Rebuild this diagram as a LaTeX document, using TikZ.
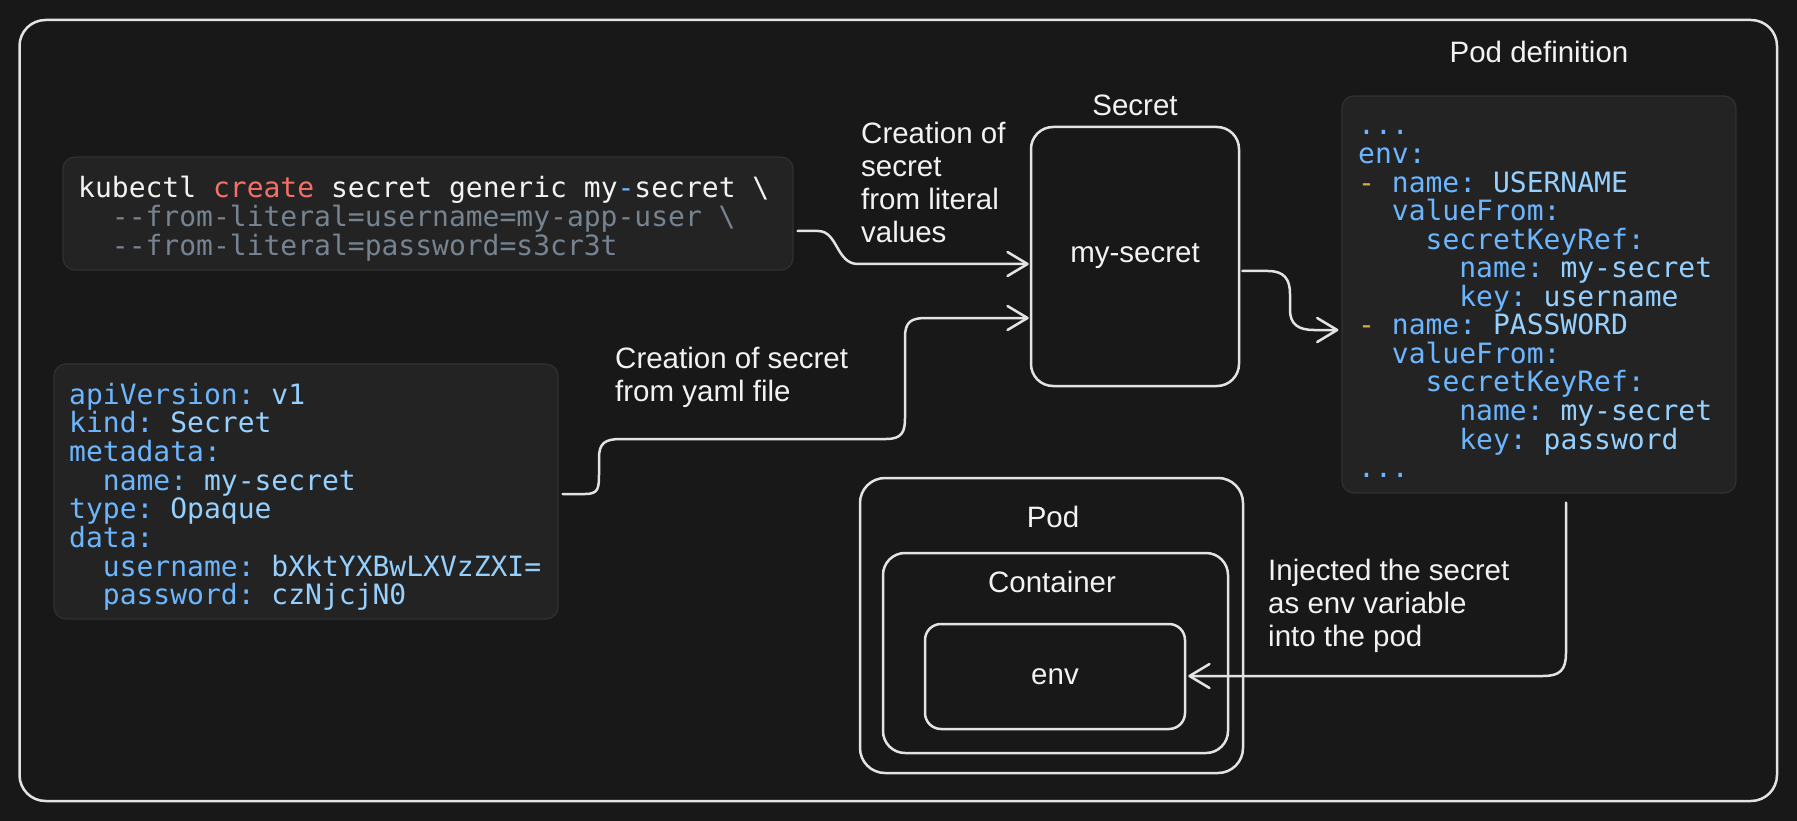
\documentclass[tikz,border=0pt]{standalone}
\usepackage{fontspec}
\setmainfont{Liberation Sans}
\setmonofont{DejaVu Sans Mono}
\usetikzlibrary{arrows.meta}
\definecolor{bg}{HTML}{181818}
\definecolor{stroke}{HTML}{E3E3E3}
\definecolor{codebg}{HTML}{232323}
\definecolor{codeborder}{HTML}{313131}
\definecolor{ctext}{HTML}{F2F2F2}
\definecolor{ckey}{HTML}{6CB6FF}
\definecolor{cval}{HTML}{96D0FF}
\definecolor{cred}{HTML}{F47067}
\definecolor{cgray}{HTML}{768390}
\definecolor{cyel}{HTML}{DAAA3F}
\newcommand\codeK[1]{\textcolor{ckey}{#1}}
\newcommand\codeV[1]{\textcolor{cval}{#1}}
\newcommand\codeY[1]{\textcolor{cyel}{#1}}
\begin{document}
\begin{tikzpicture}[x=1pt,y=-1pt,
  frame/.style={draw=stroke, line width=2.5pt, rounded corners=26pt},
  box/.style={draw=stroke, line width=2.5pt, rounded corners=22pt, text=ctext,
    font=\fontsize{29.5}{33}\selectfont, inner sep=0pt},
  codebox/.style={draw=codeborder, fill=codebg, line width=1.2pt, rounded corners=12pt, inner sep=0pt},
  code/.style={anchor=base west, inner sep=0pt, text=ctext, font=\ttfamily\fontsize{28}{28.6}\selectfont},
  lbl/.style={inner sep=0pt, text=ctext, align=left, font=\fontsize{29.5}{33}\selectfont},
  arr/.style={draw=stroke, line width=2.5pt, line cap=round, line join=round,
    -{Straight Barb[length=20pt, width=24pt, line cap=round, line join=round]}}
]
\useasboundingbox (0,0) rectangle (1797,821);
\fill[bg] (0,0) rectangle (1797,821);
\draw[frame] (19.5,20) rectangle (1777,801);

% kubectl command block
\node[codebox, minimum width=730pt, minimum height=113pt] (c1) at (428,213.5) {};
\node[code] (c1a) at (78,198) {kubectl \textcolor{cred}{create} secret generic my\textcolor{ckey}{-}secret \textbackslash};
\node[code, text=cgray] (c1b) at (78,226.7) {\phantom{xx}--from-literal=username=my-app-user \textbackslash};
\node[code, text=cgray] (c1c) at (78,255.4) {\phantom{xx}--from-literal=password=s3cr3t};

% yaml block
\node[codebox, minimum width=504pt, minimum height=255pt] (y) at (306,491.5) {};
\foreach \t [count=\i from 0] in {
  {\codeK{apiVersion:} \codeV{v1}},
  {\codeK{kind:} \codeV{Secret}},
  {\codeK{metadata:}},
  {\phantom{xx}\codeK{name:} \codeV{my-secret}},
  {\codeK{type:} \codeV{Opaque}},
  {\codeK{data:}},
  {\phantom{xx}\codeK{username:} \codeV{bXktYXBwLXVzZXI=}},
  {\phantom{xx}\codeK{password:} \codeV{czNjcjN0}}}
  \node[code] (y\i) at (69,{404+28.7*\i}) {\t};

% pod definition block
\node[lbl, anchor=base] (pdl) at (1539,63) {Pod definition};
\node[codebox, minimum width=394pt, minimum height=397pt] (pd) at (1539,294.5) {};
\foreach \t [count=\i from 0] in {
  {\codeK{...}},
  {\codeK{env:}},
  {\codeY{-} \codeK{name:} \codeV{USERNAME}},
  {\phantom{xx}\codeK{valueFrom:}},
  {\phantom{xxxx}\codeK{secretKeyRef:}},
  {\phantom{xxxxxx}\codeK{name:} \codeV{my-secret}},
  {\phantom{xxxxxx}\codeK{key:} \codeV{username}},
  {\codeY{-} \codeK{name:} \codeV{PASSWORD}},
  {\phantom{xx}\codeK{valueFrom:}},
  {\phantom{xxxx}\codeK{secretKeyRef:}},
  {\phantom{xxxxxx}\codeK{name:} \codeV{my-secret}},
  {\phantom{xxxxxx}\codeK{key:} \codeV{password}},
  {\codeK{...}}}
  \node[code] (pd\i) at (1358,{135+28.55*\i}) {\t};

% secret
\node[lbl, anchor=base] (secl) at (1135,116) {Secret};
\node[box, minimum width=208pt, minimum height=259pt] (secret) at (1135,256.5) {my-secret};

% pod
\node[box, rounded corners=25pt, minimum width=383pt, minimum height=295pt] (pod) at (1051.5,625.5) {};
\node[lbl, anchor=base] (podl) at (1053,527) {Pod};
\node[box, minimum width=345pt, minimum height=200pt] (cont) at (1055.5,653) {};
\node[lbl, anchor=base] (contl) at (1052,592) {Container};
\node[box, rounded corners=16pt, minimum width=260pt, minimum height=105pt] (env) at (1055,676.5) {env};

% labels
\node[lbl, anchor=north west] (litl) at (861,121.5) {Creation of\\secret\\from literal\\values};
\node[lbl, anchor=north west] (yaml) at (615,346.5) {Creation of secret\\from yaml file};
\node[lbl, anchor=north west] (injl) at (1268,558.5) {Injected the secret\\as env variable\\into the pod};

% connectors
\draw[arr] ([shift={(4,17.5)}]c1.east) -- (818,231)
  .. controls (838,231) and (836,264) .. (858,264) -- ([shift={(-1,7.5)}]secret.west);
\draw[arr] ([shift={(4,2.5)}]y.east) -- (585,494)
  .. controls (599,494) and (599,488) .. (599,472) -- (599,458)
  .. controls (599,443) and (605,439) .. (621,439) -- (886,439)
  .. controls (902,439) and (905,432) .. (905,418) -- (905,337)
  .. controls (905,322) and (911,318) .. (926,318) -- ([shift={(-1,61.5)}]secret.west);
\draw[arr] ([shift={(2,14.5)}]secret.east) -- (1268,271)
  .. controls (1284,271) and (1290,279) .. (1290,294) -- (1290,310)
  .. controls (1290,324) and (1298,330) .. (1314,330) -- ([shift={(-3,35.5)}]pd.west);
\draw[arr] ([shift={(27,9)}]pd.south) -- (1566,653)
  .. controls (1566,670) and (1560,676) .. (1543,676) -- ([shift={(2,-0.5)}]env.east);
\end{tikzpicture}
\end{document}
